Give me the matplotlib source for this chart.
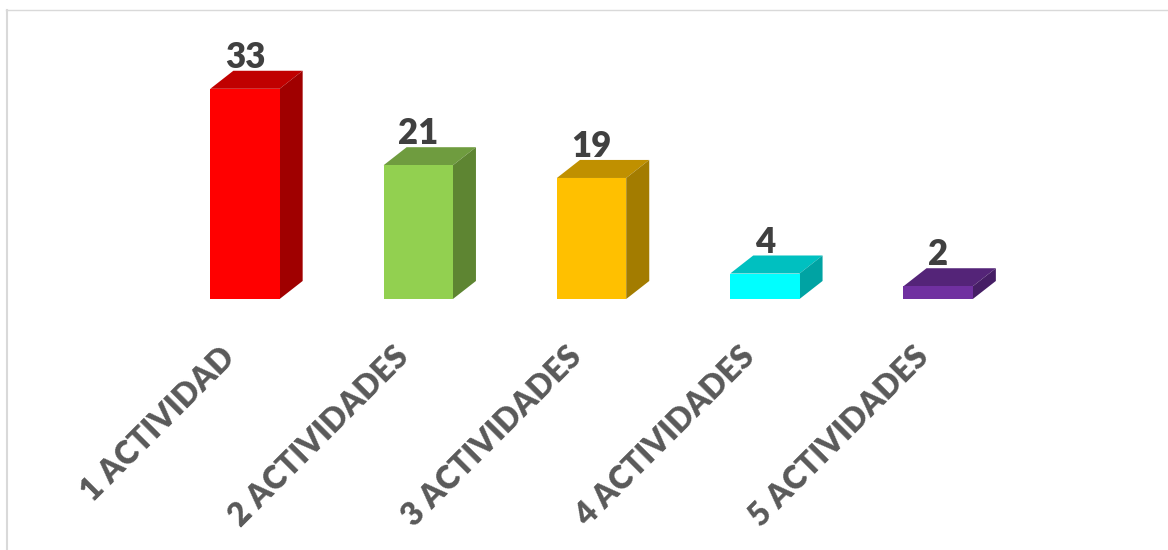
import matplotlib
matplotlib.use('Agg')
import matplotlib.pyplot as plt
from matplotlib.lines import Line2D
from matplotlib.transforms import ScaledTranslation

plt.rcParams['font.family'] = ['Lato', 'DejaVu Sans']

categories = ['1 ACTIVIDAD', '2 ACTIVIDADES', '3 ACTIVIDADES', '4 ACTIVIDADES', '5 ACTIVIDADES']
values = [33, 21, 19, 4, 2]
front_colors = ['#ff0000', '#92d050', '#ffc000', '#00ffff', '#7030a0']
top_colors = ['#c00000', '#6f9c3f', '#c09000', '#00c0c0', '#542478']
side_colors = ['#a00000', '#5e8532', '#a37c00', '#00a3a3', '#461e65']

W, H = 1168, 550
BAR_W = 0.4
DEPTH_X = 0.133  # same 3d offset for every bar
DEPTH_Y = 2.83

fig = plt.figure(figsize=(W / 100, H / 100), dpi=100)
ax = fig.add_axes([158.3 / W, 1 - 299 / H, 866.5 / W, 254.8 / H])

for i, v in enumerate(values):
    x0 = i - BAR_W / 2
    x1 = i + BAR_W / 2
    ax.bar(i, v, width=BAR_W, color=front_colors[i], linewidth=0, zorder=3)
    # top face
    ax.fill([x0, x1, x1 + DEPTH_X, x0 + DEPTH_X],
            [v, v, v + DEPTH_Y, v + DEPTH_Y],
            color=top_colors[i], linewidth=0, clip_on=False, zorder=2)
    # side face
    ax.fill([x1, x1 + DEPTH_X, x1 + DEPTH_X, x1],
            [0, DEPTH_Y, v + DEPTH_Y, v],
            color=side_colors[i], linewidth=0, clip_on=False, zorder=2)
    ax.text(i, v + DEPTH_Y + 0.45, str(v), ha='center', va='baseline',
            fontsize=25, fontweight='heavy', color='#404040', clip_on=False, zorder=4)

ax.set_xlim(-0.5, 4.5)
ax.set_ylim(0, 40)
ax.set_yticks([])
ax.set_xticks(range(len(categories)))
ax.set_xticklabels(categories, rotation=45, ha='right', va='top', rotation_mode='anchor',
                   fontsize=23, fontweight='heavy', color='#595959')
ax.tick_params(axis='x', length=0, pad=31)
# labels sit further left than the tick position
shift = ScaledTranslation(-25 / 100, 0, fig.dpi_scale_trans)
for lab in ax.get_xticklabels():
    lab.set_transform(lab.get_transform() + shift)
for s in ax.spines.values():
    s.set_visible(False)
ax.patch.set_alpha(0)

# chart area border, only top and left show in the crop
fig.add_artist(Line2D([6 / W, 1], [1 - 9.5 / H, 1 - 9.5 / H], color='#d9d9d9', lw=1))
fig.add_artist(Line2D([6.5 / W, 6.5 / W], [0, 1 - 9.5 / H], color='#d9d9d9', lw=1.5))

fig.savefig('out.png', dpi=100)
